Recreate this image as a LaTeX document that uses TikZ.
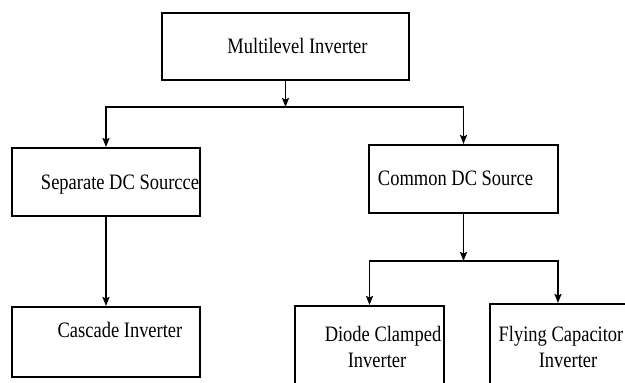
\documentclass[tikz,border=0pt]{standalone}
\usepackage{fontspec}
\setmainfont{Liberation Serif}[FakeStretch=0.84]
\usetikzlibrary{arrows.meta}
\begin{document}
\begin{tikzpicture}[x=1pt,y=-1pt,
  box/.style={draw,line width=2pt,inner sep=0pt},
  lbl/.style={font=\fontsize{22}{26}\selectfont,inner sep=0pt,anchor=base},
  conn/.style={line width=1.8pt,-{Stealth[length=9pt,width=7pt,inset=1.5pt]}}]
\useasboundingbox (0,0) rectangle (625,383);
\clip (0,0) rectangle (625,383);
\node[box,minimum width=247pt,minimum height=67pt] (mli) at (285.5,46.5) {};
\node[box,minimum width=188pt,minimum height=68pt] (sep) at (106,182) {};
\node[box,minimum width=189pt,minimum height=68pt] (com) at (463.5,179) {};
\node[box,minimum width=188pt,minimum height=70pt] (cas) at (106,342) {};
\node[box,minimum width=149pt,minimum height=100pt] (dio) at (369.5,356) {};
\node[box,minimum width=136pt,minimum height=100pt] (fly) at (558,354) {};
\node[lbl] (tmli) at (297.5,53) {Multilevel Inverter};
\node[lbl] (tsep) at (120,189) {Separate DC Sourcce};
\node[lbl] (tcom) at (455.5,185) {Common DC Source};
\node[lbl] (tcas) at (120,337.5) {Cascade Inverter};
\node[lbl] (tdio1) at (383,341) {Diode Clamped};
\node[lbl] (tdio2) at (377,367) {Inverter};
\node[lbl] (tfly1) at (561,341) {Flying Capacitor};
\node[lbl] (tfly2) at (568,367) {Inverter};
\coordinate (j1) at (mli.south |- 0,107);
\coordinate (j2) at (com.south |- 0,261);
\draw[conn] (mli.south) -- (j1);
\draw[conn] (j1) -| (sep.north);
\draw[conn] (j1) -| (com.north);
\draw[conn] (sep.south) -- (cas.north);
\draw[conn] (com.south) -- (j2);
\draw[conn] (j2) -| (dio.north);
\draw[conn] (j2) -| (fly.north);
\end{tikzpicture}
\end{document}
